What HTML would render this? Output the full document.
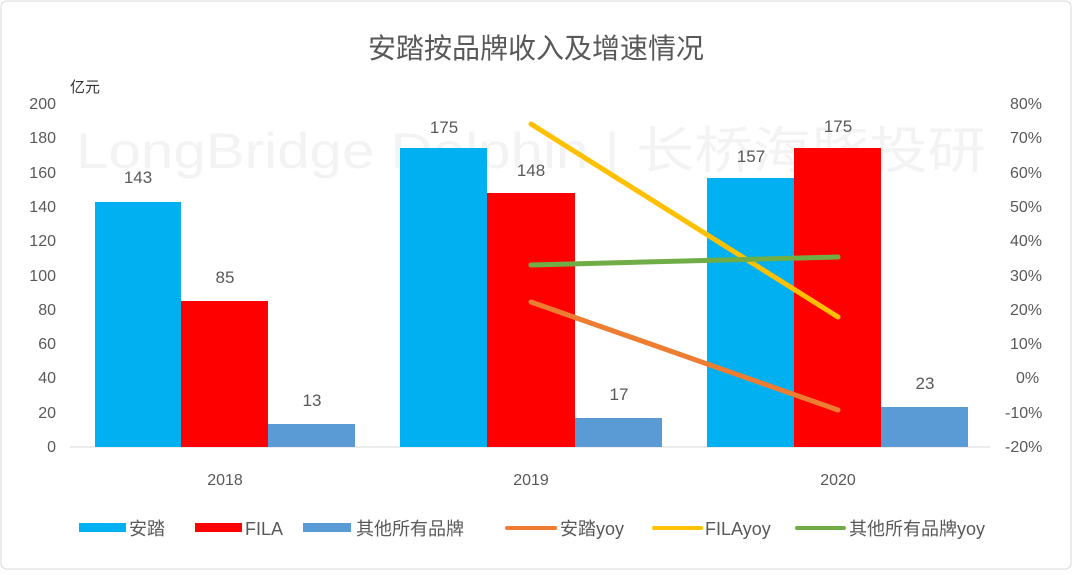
<!DOCTYPE html>
<html><head><meta charset="utf-8"><style>
body{margin:0;background:#fff}
svg text{font-family:"Liberation Sans","Noto Sans CJK SC",sans-serif;fill:#595959}
</style></head><body>
<svg width="1072" height="570" xmlns="http://www.w3.org/2000/svg">
<rect x="1" y="1" width="1070" height="568" rx="6" fill="#fff" stroke="#d9d9d9"/>
<text x="536" y="58" font-size="28" text-anchor="middle">安踏按品牌收入及增速情况</text>
<text x="70" y="92" font-size="15" style="fill:#333">亿元</text>
<text x="76" y="168" font-size="50" textLength="910" lengthAdjust="spacingAndGlyphs" style="fill:#f3f3f3">LongBridge Dolphin | 长桥海豚投研</text>
<g font-size="16" text-anchor="end">
<text x="56" y="109">200</text><text x="56" y="143">180</text><text x="56" y="178">160</text><text x="56" y="212">140</text><text x="56" y="246">120</text><text x="56" y="281">100</text><text x="56" y="315">80</text><text x="56" y="349">60</text><text x="56" y="383">40</text><text x="56" y="418">20</text><text x="56" y="452">0</text>
</g>
<g font-size="16" text-anchor="start">
<text x="1010" y="109">80%</text><text x="1010" y="143">70%</text><text x="1010" y="178">60%</text><text x="1010" y="212">50%</text><text x="1010" y="246">40%</text><text x="1010" y="281">30%</text><text x="1010" y="315">20%</text><text x="1010" y="349">10%</text><text x="1016" y="383">0%</text><text x="1005" y="418">-10%</text><text x="1005" y="452">-20%</text>
</g>
<line x1="70" y1="447" x2="990" y2="447" stroke="#d9d9d9"/>
<g>
<rect x="95" y="202" width="86" height="245" fill="#00b0f0"/>
<rect x="181" y="301" width="87" height="146" fill="#ff0000"/>
<rect x="268" y="424" width="87" height="23" fill="#5b9bd5"/>
<rect x="400" y="148" width="87" height="299" fill="#00b0f0"/>
<rect x="487" y="193" width="88" height="254" fill="#ff0000"/>
<rect x="575" y="418" width="87" height="29" fill="#5b9bd5"/>
<rect x="707" y="178" width="87" height="269" fill="#00b0f0"/>
<rect x="794" y="148" width="87" height="299" fill="#ff0000"/>
<rect x="881" y="407" width="87" height="40" fill="#5b9bd5"/>
</g>
<g font-size="17" text-anchor="middle" style="fill:#404040">
<text x="138" y="183">143</text><text x="225" y="283">85</text><text x="312" y="406">13</text>
<text x="444" y="133">175</text><text x="531" y="176">148</text><text x="619" y="400">17</text>
<text x="751" y="162">157</text><text x="838" y="132">175</text><text x="925" y="389">23</text>
</g>
<g stroke-width="5" stroke-linecap="round">
<line x1="531" y1="124" x2="838" y2="317" stroke="#ffc000"/>
<line x1="531" y1="302" x2="838" y2="410" stroke="#ed7d31"/>
<line x1="531" y1="265" x2="838" y2="257" stroke="#70ad47"/>
</g>
<g font-size="16" text-anchor="middle">
<text x="225" y="485">2018</text><text x="531" y="485">2019</text><text x="838" y="485">2020</text>
</g>
<g font-size="18">
<rect x="79" y="523" width="47" height="9" fill="#00b0f0"/><text x="129" y="535">安踏</text>
<rect x="195" y="523" width="47" height="9" fill="#ff0000"/><text x="245" y="535">FILA</text>
<rect x="303" y="523" width="48" height="9" fill="#5b9bd5"/><text x="356" y="535">其他所有品牌</text>
<line x1="507" y1="528" x2="555" y2="528" stroke="#ed7d31" stroke-width="4" stroke-linecap="round"/><text x="560" y="535">安踏yoy</text>
<line x1="654" y1="528" x2="701" y2="528" stroke="#ffc000" stroke-width="4" stroke-linecap="round"/><text x="705" y="535">FILAyoy</text>
<line x1="797" y1="528" x2="844" y2="528" stroke="#70ad47" stroke-width="4" stroke-linecap="round"/><text x="849" y="535">其他所有品牌yoy</text>
</g>
</svg>
</body></html>
